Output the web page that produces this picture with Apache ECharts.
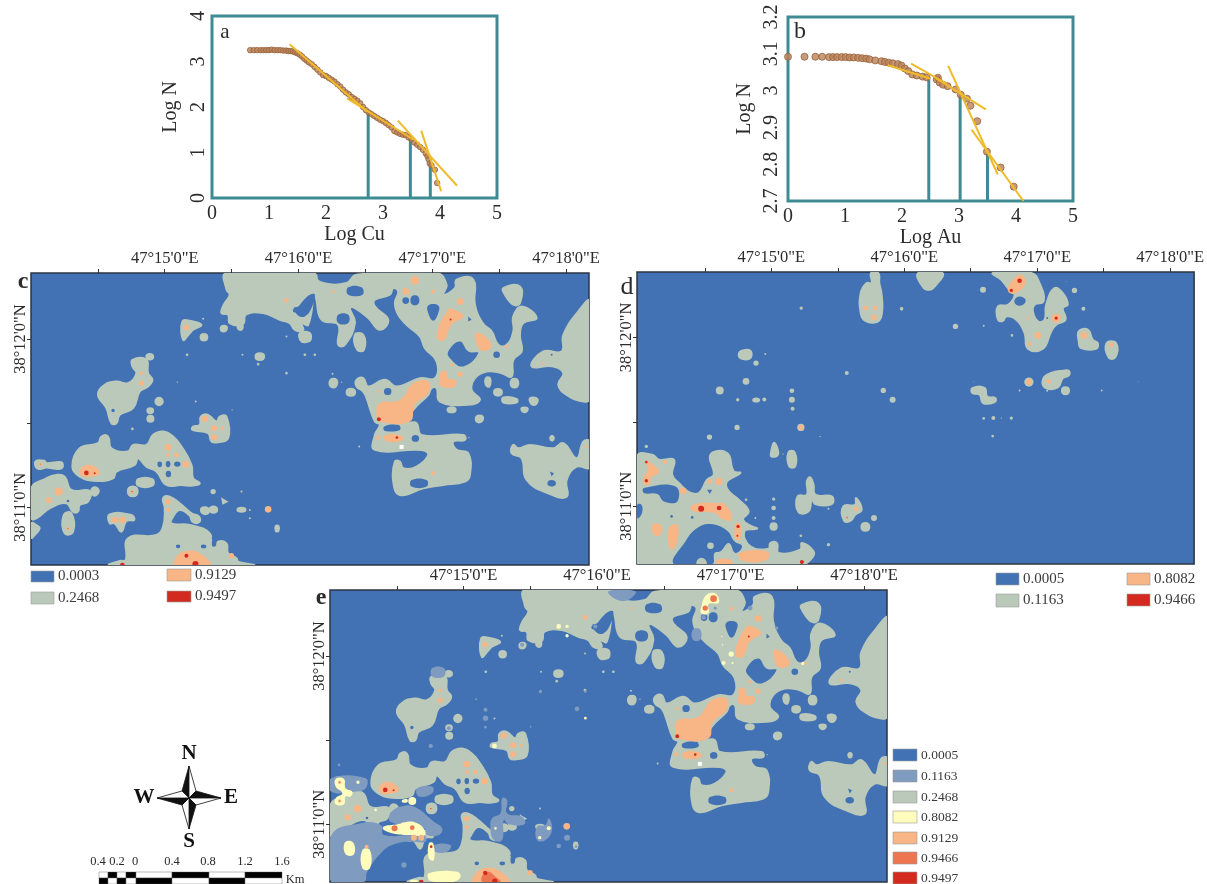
<!DOCTYPE html>
<html><head><meta charset="utf-8">
<style>html,body{margin:0;padding:0;background:#fff}#m{width:1207px;height:884px}</style>
<script src="https://cdn.jsdelivr.net/npm/echarts@6/dist/echarts.min.js"></script>
</head><body><div id="m"></div>
<script>
const SERIF='"Liberation Serif","Times New Roman",serif';
const TEAL='#3F8B93', YEL='#EFBB2B';
// Panel a
const cuPoints=[[.67,3.25],[.73,3.25],[.79,3.25],[.85,3.25],[.9,3.25],[.95,3.25],[1,3.25],[1.05,3.26],[1.1,3.25],[1.15,3.25],[1.2,3.25],[1.25,3.24],[1.3,3.24],[1.34,3.23],[1.38,3.23],[1.42,3.22],[1.46,3.2],[1.5,3.18],[1.54,3.15],[1.58,3.11],[1.62,3.06],[1.66,3.02],[1.7,2.98],[1.75,2.94],[1.8,2.88],[1.85,2.82],[1.9,2.76],[1.95,2.7],[2,2.68],[2.05,2.64],[2.1,2.6],[2.15,2.56],[2.2,2.5],[2.25,2.45],[2.3,2.38],[2.35,2.32],[2.4,2.28],[2.45,2.22],[2.5,2.18],[2.55,2.14],[2.6,2.08],[2.65,2],[2.7,1.93],[2.75,1.88],[2.8,1.84],[2.85,1.8],[2.9,1.76],[2.95,1.72],[3,1.69],[3.05,1.65],[3.1,1.6],[3.15,1.55],[3.2,1.47],[3.25,1.44],[3.3,1.41],[3.35,1.39],[3.4,1.38],[3.45,1.33],[3.5,1.29],[3.55,1.22],[3.6,1.17],[3.65,1.12],[3.7,1.06],[3.75,.98],[3.78,.92],[3.8,.85],[3.82,.76],[3.85,.72],[3.91,.62],[3.95,.33]];
const cuFits=[[[1.36,3.38],[2.72,1.9]],[[2.37,2.19],[3.54,1.28]],[[3.26,1.7],[4.3,.27]],[[3.67,1.48],[4.02,.15]]];
const cuBreaks=[[2.74,1.86],[3.48,1.28],[3.83,.84]];
// Panel b
const auPoints=[[0,3.092],[.29,3.092],[.48,3.092],[.6,3.092],[.72,3.091],[.79,3.091],[.86,3.091],[.94,3.091],[1.01,3.091],[1.08,3.09],[1.15,3.09],[1.23,3.089],[1.3,3.088],[1.37,3.087],[1.43,3.085],[1.53,3.082],[1.64,3.08],[1.7,3.078],[1.77,3.076],[1.84,3.074],[1.93,3.072],[1.99,3.068],[2.05,3.06],[2.11,3.053],[2.18,3.044],[2.26,3.041],[2.36,3.038],[2.43,3.036],[2.63,3.035],[2.61,3.03],[2.66,3.022],[2.72,3.016],[2.8,3.012],[2.94,3.003],[3.03,2.989],[3.14,2.978],[3.2,2.959],[3.32,2.917],[3.49,2.834],[3.73,2.791],[3.96,2.739]];
const auFits=[[[1.75,3.069],[2.49,3.033]],[[2.16,3.073],[2.78,3.019]],[[2.6,3.033],[3.47,2.949]],[[2.81,3.067],[3.68,2.772]],[[3.22,2.894],[4.13,2.7]]];
const auBreaks=[[2.47,3.037],[3.02,2.988],[3.5,2.829]];
// Class palette
const B=0,S=1,G=2,Y=3,O=4,C=5,R=6,W=7;
const classColors=['#4272B4','#7F9BBF','#BBC9BB','#FFFDBD','#F8B585','#ED7650','#D32A20','#FFFFFF'];
// Raster patches: [class,[col,row,...]] polygon or [class,col,row,radius] blob
const cuWest=[
[G,[680,85,940,85,940,150,925,240,905,235,910,255,885,255,870,235,840,225,790,205,738,210,730,238,690,235,685,210,665,205,672,180,690,150,680,135]],
[O,860,167,7],[G,[548,230,570,228,605,240,580,255,568,268,550,285]],[O,560,248,8],
[G,[605,270,620,270,620,285,605,285]],[G,[665,245,680,245,678,258,665,258]],[G,[715,242,728,242,725,255,715,252]],[G,[770,328,790,328,790,343,770,343]],[G,610,222,3],
[G,[905,265,930,265,930,288,910,285]],[G,860,275,3],[G,562,330,4],[G,728,330,3],[G,775,358,4],[G,860,385,4],[G,915,330,3],
[G,[398,345,440,345,445,385,458,405,445,425,420,440,400,490,360,510,350,535,335,535,320,490,295,450,315,420,350,410,385,415,410,385,398,365]],
[O,425,385,5],[O,425,415,8],[B,340,497,5],[G,[442,330,458,330,458,342,442,342]],[G,478,470,14],[G,[445,492,458,492,458,503,445,503]],[G,452,522,12],[G,398,552,4],[G,533,412,2],[G,588,470,3],[G,697,495,2],
[G,[603,515,625,510,650,530,660,515,680,515,685,580,655,592,635,590,625,565,578,555,580,545,600,540]],
[O,615,522,9],[O,643,550,9],[O,643,577,9],[O,668,550,5],
[G,[110,648,135,648,140,655,185,652,188,668,175,672,140,668,120,672,108,665]],[O,122,658,5],[C,122,658,2],
[G,[218,665,240,610,295,595,305,575,325,575,335,610,385,620,400,600,440,600,460,570,490,560,520,575,545,605,575,660,580,700,600,715,580,722,545,720,500,720,470,680,440,665,415,640,405,660,350,680,340,700,290,708,240,695]],
[O,505,607,10],[O,505,630,6],[O,530,630,7],[O,558,658,10],[O,[240,680,255,662,285,665,300,685,280,695,250,695]],[R,260,684,7],[R,285,685,3],
[B,[475,652,485,652,485,665,475,665]],[B,[500,650,510,650,510,665,500,665]],[B,[525,652,540,652,540,663,525,663]],[B,[500,680,512,680,512,695,500,695]],
[G,[415,703,458,703,458,722,415,722]],[G,[388,728,410,728,410,750,388,750]],[O,397,740,5],[R,397,740,2],
[G,[95,730,140,700,170,690,195,695,215,735,270,738,265,770,240,780,235,800,220,800,200,775,150,790,110,820,95,820]],[O,177,740,12],[O,147,766,9],[B,205,768,4],
[G,[278,730,290,728,297,740,285,752,275,740]],[G,[95,835,110,840,120,850,105,870,95,878]],[G,[192,810,215,805,220,860,195,865]],[O,205,850,5],[R,205,850,1.5],
[G,[330,808,395,810,403,825,380,828,365,860,345,835,330,835]],[O,345,825,9],[O,368,825,10],
[G,640,740,8],[G,725,740,3],[G,[668,763,680,770,670,775]],[G,[605,790,625,790,625,805,608,805]],[G,[632,788,650,788,650,800,632,800]],[G,[715,790,735,790,735,798,715,798]],[G,750,795,3],[G,750,820,3],[O,805,793,10],[G,[828,843,836,843,836,858,828,858]],
[G,[330,960,360,948,378,945,385,880,470,870,490,845,495,790,490,760,510,755,540,775,575,805,598,815,598,832,578,830,570,812,540,795,520,815,515,835,570,840,630,865,635,905,650,905,655,890,680,895,685,925,710,940,715,950,760,960]],
[O,505,770,8],[O,505,795,6],[O,[525,962,530,935,560,918,600,925,632,962]],[R,560,932,6],[R,587,957,9],[R,368,960,7],[O,695,932,8],
[B,640,880,4],[B,670,878,3],[B,[530,900,540,900,540,908,530,908]],[B,[605,900,618,900,618,908,605,908]]
];
const cuEast=[
[G,[0,85,30,90,70,115,140,115,170,90,410,85,440,120,430,150,465,130,470,105,520,105,525,180,548,235,575,260,595,300,620,300,640,260,640,215,665,185,710,220,670,235,660,270,665,320,640,345,635,395,605,385,560,380,525,400,515,435,540,465,505,480,420,470,410,430,395,430,385,450,340,495,325,530,350,535,365,570,490,570,495,585,460,590,470,615,505,625,510,690,495,710,430,720,370,730,300,750,280,710,285,650,300,650,310,670,350,665,385,630,365,615,225,615,225,570,240,540,225,530,200,460,190,440,170,425,170,405,190,400,205,425,255,405,290,425,360,400,405,400,410,350,375,310,360,275,320,240,295,210,285,175,295,140,280,130,270,150,225,165,225,185,265,225,240,255,205,220,165,190,150,190,165,235,135,300,115,300,115,240,65,225,45,150,30,150,20,200,0,240]],
[B,[-18,190,-5,185,8,170,30,150,45,150,35,190,15,215,-5,212]],[B,-15,197,6],
[B,[145,128,185,128,188,150,145,150]],[B,[115,210,145,210,145,235,115,235]],[B,[385,182,415,182,415,205,400,228,385,205]],[B,[310,160,325,160,325,175,310,175]],[B,[335,155,355,155,355,178,335,178]],
[B,[445,320,480,290,505,320,535,325,490,365,450,340]],[B,590,330,10],[B,[505,215,515,225,505,230]],[B,[255,432,272,432,272,448,255,448]],[B,[253,545,295,540,300,555,255,558]],[B,[338,573,355,573,355,588,338,588]],[B,[335,705,380,705,380,725,335,725]],
[G,[610,130,660,125,660,175,640,180,615,150]],[G,[0,265,25,265,30,285,5,290]],[G,[165,270,190,270,192,315,172,315]],[G,15,330,4],[G,45,330,4],[G,98,387,3],[G,[92,405,110,405,108,425,92,425]],[G,125,412,2],[G,[143,435,163,435,163,450,143,450]],[G,[558,400,570,400,568,425,558,420]],[G,[635,405,652,405,652,425,635,425]],[G,[585,435,603,435,603,450,585,450]],[G,[610,458,650,462,650,473,610,473]],[G,[690,460,712,462,708,478,695,478]],[G,[445,490,465,490,465,500,445,500]],[G,[665,490,682,490,680,500,668,500]],[G,[530,515,548,515,545,530,530,530]],[G,[752,575,760,575,760,585,752,585]],[G,507,578,2],[G,178,605,3],
[G,[870,170,870,460,850,470,800,450,775,420,790,385,760,365,695,365,730,320,785,320,790,270,835,200]],[B,755,330,3],[B,[695,385,705,382,705,392]],
[G,[640,600,655,610,690,600,760,610,790,595,830,640,850,590,870,590,870,668,830,665,800,705,800,755,745,745,680,705,665,640,635,625]],[B,[750,680,762,685,755,695]],[B,[745,708,765,708,765,722,745,722]],
[O,345,107,13],[O,318,140,10],[O,400,140,6],[O,480,170,10],[O,[445,195,465,195,490,215,455,240,435,285,415,285,412,260]],[R,452,224,3],
[O,[528,265,550,270,575,305,545,318,528,290]],[O,[425,380,440,380,445,400,468,405,465,425,425,425,420,400]],[O,480,388,8],
[O,[240,475,300,465,340,415,385,410,385,445,345,480,330,530,240,530,230,505]],[R,237,523,6],[O,235,578,6],[O,[255,572,300,570,310,585,260,590]],[R,291,578,4],[W,[299,600,311,600,311,612,299,612]],[O,400,685,6],[O,100,140,4],[O,730,355,4],[O,455,360,5],[O,620,305,5],[O,860,605,4],[O,238,440,4]
];
const extraWest=[
[S,[92,812,180,775,240,780,250,810,370,810,375,830,340,830,290,835,245,860,200,920,190,950,92,950]],
[S,[270,745,300,725,340,725,400,770,425,790,415,810,380,810,370,790,270,770]],
[S,[92,640,195,640,195,670,165,680,92,680]],[S,[350,670,395,665,395,685,355,695]],
[S,[575,760,600,745,605,700,620,705,620,745,665,755,672,778,625,778,610,765,605,825,580,825,570,790]],
[S,[710,785,735,780,745,760,755,795,735,825,710,825]],[S,[395,310,430,310,430,335,395,335]],
[S,555,435,6],[S,555,460,8],[S,555,487,4],[S,830,432,7],[S,800,818,9],[S,775,843,7],[S,827,845,4],[S,720,380,5],[S,855,380,4],[S,885,185,6],[S,445,490,6],[S,390,543,6],[S,115,600,4],[S,310,900,8],[S,[400,840,450,840,440,860,405,860]],[S,665,240,6],
[Y,[105,642,130,642,135,670,155,680,150,695,135,695,130,718,105,718,105,700,125,685,105,665]],[O,117,652,5],[C,117,652,2],[O,117,708,5],[C,117,708,2],
[Y,[305,705,320,703,320,712,305,712]],[Y,335,708,12],[Y,172,652,5],[Y,225,735,4],
[Y,[248,785,290,778,320,770,350,775,372,795,370,812,330,810,290,808,250,795]],[C,282,790,9],[C,335,788,7],[O,340,818,9],[O,362,818,9],
[Y,[133,832,157,832,160,868,135,868]],[Y,[185,855,208,855,208,910,185,910]],[O,198,845,6],[Y,[385,835,398,835,400,885,385,880]],[R,392,845,4],
[Y,[385,925,470,920,480,935,460,950,400,950,385,945]],[Y,[330,945,350,945,350,952,330,952]],
[Y,582,543,7],[Y,775,185,7],[Y,800,185,5],[Y,800,213,5],[Y,745,790,6],[Y,718,818,5],[Y,585,790,4],[Y,855,460,4],
[C,[545,950,550,925,565,920,585,935,600,950]],[R,555,925,6],[R,583,948,8]
];
const extraEast=[
[S,[25,80,105,80,85,105,50,105]],[S,[278,195,300,195,300,225,278,225]],[S,310,158,7],[S,450,130,7],[S,530,190,5],[S,345,130,5],
[Y,[315,95,330,85,350,90,355,115,325,118,325,145,303,145,305,120]],[C,340,102,10],[C,315,130,8],
[Y,393,268,8],[Y,370,295,6],[Y,397,295,3],[Y,365,215,2],[Y,367,240,2],[Y,608,296,5]
];
const auWest=[
[G,[783,85,805,85,808,115,815,150,815,210,800,232,765,228,752,205,752,145,770,115,785,115]],[O,766,190,7],[O,795,190,7],[O,793,218,8],
[G,573,190,5],[G,875,192,5],[G,[385,330,395,318,420,318,420,340,395,342]],[G,465,328,3],[G,437,355,8],[G,710,385,6],[G,407,410,10],[G,328,437,12],[G,820,437,8],[G,848,465,9],[G,545,438,7],[G,545,465,9],[G,547,492,6],[G,382,465,5],[G,[430,463,445,463,445,469,430,469]],[G,462,464,6],[G,380,548,8],[G,572,548,11],[O,572,548,8],[G,297,577,8],[G,107,605,5],[G,630,575,2],
[G,[490,595,497,600,503,630,483,635,483,620]],[G,518,628,2],[G,[535,622,553,622,555,665,537,665]],
[G,[590,750,590,710,600,698,610,720,615,750,665,755,665,778,615,778,605,760,595,800,565,802,562,755]],
[G,[700,785,735,780,738,760,755,795,735,810,722,828,702,828]],[O,738,792,7],[C,711,818,3],
[G,792,820,9],[G,[757,838,775,838,775,855,757,855]],[G,490,763,5],[G,490,790,7],[G,490,820,6],[G,[483,838,497,838,497,853,483,853]],[G,655,792,3],[G,572,873,4],[G,655,900,5],[G,407,765,4],[G,435,820,3],
[G,[80,635,125,630,145,645,190,645,185,690,210,720,235,742,265,745,290,705,310,690,300,630,350,625,370,680,390,685,350,710,352,735,385,765,415,800,398,825,425,845,440,852,402,860,420,905,475,912,480,895,500,895,505,925,570,915,575,895,610,920,605,940,575,958,80,958]],
[B,[100,730,195,725,200,770,160,770,140,748,100,745]],[B,[80,780,92,780,95,800,85,820,80,820]],[B,[290,735,305,735,298,748]],[B,183,815,4],[B,245,818,4],
[B,[190,958,225,890,260,850,300,838,350,858,372,890,395,905,375,925,355,895,330,920,312,925,305,958]],[G,300,903,10],[G,[262,958,285,958,280,945,265,945]],
[O,[107,650,115,650,145,680,120,700,118,718,100,718,100,695,110,680]],[R,107,652,4],[R,107,708,5],
[O,[240,785,270,775,310,775,345,780,365,825,340,825,310,805,250,800]],[R,272,792,9],[R,326,790,7],
[O,[125,840,150,840,150,870,130,870]],[O,[175,850,200,840,200,890,185,915,175,905]],[O,325,710,11],[O,298,710,7],[O,218,738,10],[O,163,652,6],
[O,[375,838,390,838,390,882,375,882]],[R,383,845,5],[R,381,873,3],
[O,[385,925,470,920,470,945,400,950]],[O,[320,945,360,945,365,958,320,958]],[R,575,952,6]
];
const auEast=[
[G,[55,85,128,85,105,125,90,135,70,128]],
[G,[280,85,395,85,420,115,432,170,405,180,400,200,415,230,435,225,440,180,465,130,490,145,505,180,490,190,498,225,470,240,455,260,430,312,385,312,375,265,350,225,320,215,310,228,295,225,295,185,325,180,345,150,325,130,305,105]],
[B,[345,165,360,155,378,165,370,180,350,180]],
[O,[345,100,365,90,378,115,350,145,330,145,325,130]],[R,360,108,7],[R,335,137,5],[O,415,272,10],[O,390,298,6],[O,470,220,14],[R,470,220,5],[O,385,220,4],[B,443,220,3],
[G,250,135,9],[G,525,137,8],[G,552,192,6],[G,167,245,8],[G,252,243,3],[G,337,272,4],[G,5,192,5],
[G,[538,260,565,255,580,285,595,295,590,312,545,310,538,290]],[O,553,272,10],
[G,[622,295,650,295,648,338,628,338]],[O,635,300,7],
[G,388,412,14],[O,388,412,9],[G,[432,400,455,385,490,378,508,378,508,392,490,400,475,428,435,428]],[O,447,410,7],
[G,[490,430,506,430,506,446,490,446]],[G,360,437,3],[G,443,438,3],[G,607,437,3],[G,717,410,1],
[G,[218,430,255,430,262,455,287,460,285,472,250,475,240,450,218,445]],
[G,252,521,4],[G,281,520,6],[G,305,520,2],[G,335,520,5],[G,279,574,4],[G,222,410,1],[G,500,110,1]
];
// Axis ticks (minutes)
const lonTicks=[14.5,15,15.5,16,16.5,17,17.5,18], lonLabels=[15,16,17,18];
const latTicks=[11,11.5,12], latLabels=[11,12];
const cuLegend=['0.0003','0.2468','0.9129','0.9497'];
const auLegend=['0.0005','0.1163','0.8082','0.9466'];
const jointLegend=['0.0005','0.1163','0.2468','0.8082','0.9129','0.9466','0.9497'];
const scaleLabels=['0.4','0.2','0','0.4','0.8','1.2','1.6'];

const shift=(list,dx,dy)=>list.map(p=>Array.isArray(p[1])
  ?[p[0],p[1].map((v,i)=>i%2?v+dy:v+dx)]
  :[p[0],p[1]+dx,p[2]+dy,p[3]]);
const cuGeo={lon:c=>15+(c-495)/401,lat:r=>12-(r-283)/504,x:[14,18.172],y:[10.657,12.393]};
const auGeo={lon:c=>15+(c-483)/400,lat:r=>12-(r-278)/507,x:[13.99,18.18],y:[10.659,12.387]};
const cuAll=[...cuWest,...shift(cuEast,900,0)];
const auAll=[...auWest,...shift(auEast,870,0)];
const jointAll=[...cuAll,...shift(extraWest,6,9),...shift(extraEast,906,9)];

const font=(s,extra)=>Object.assign({fontFamily:SERIF,fontSize:s,color:'#2b2b2b'},extra||{});
const grid=[],xAxis=[],yAxis=[],series=[];
function logPanel(box,xName,gap,lblMargin,yMin,yMax,yInt,pts,fits,breaks,size){
  const i=grid.length;
  grid.push(Object.assign({show:true,borderColor:TEAL,borderWidth:3,backgroundColor:'#fff'},box));
  xAxis.push({gridIndex:i,type:'value',min:0,max:5,interval:1,splitLine:{show:false},axisLine:{show:false},axisTick:{show:false},
    axisLabel:font(20,{margin:6}),name:xName,nameLocation:'middle',nameGap:gap,nameTextStyle:font(20)});
  yAxis.push({gridIndex:i,type:'value',min:yMin,max:yMax,interval:yInt,splitLine:{show:false},axisLine:{show:false},axisTick:{show:false},
    axisLabel:font(20,{rotate:90,margin:lblMargin,formatter:v=>String(+v.toFixed(1))}),name:'Log N',nameLocation:'middle',nameGap:yInt<1?33:31,nameTextStyle:font(20)});
  breaks.forEach(b=>series.push({type:'line',xAxisIndex:i,yAxisIndex:i,data:[[b[0],yMin],b],symbol:'none',silent:true,lineStyle:{color:TEAL,width:3},z:2}));
  series.push({type:'scatter',xAxisIndex:i,yAxisIndex:i,data:pts,symbolSize:size,silent:true,z:3,
    itemStyle:{color:'#BC8258',borderColor:'#96603A',borderWidth:1}});
  fits.forEach(f=>series.push({type:'line',xAxisIndex:i,yAxisIndex:i,data:f,symbol:'none',silent:true,lineStyle:{color:YEL,width:2},z:4}));
}
function mapPanel(box,geo,patches){
  const i=grid.length;
  grid.push(Object.assign({show:true,borderColor:'#2c3442',borderWidth:1.5,backgroundColor:classColors[B]},box));
  xAxis.push({gridIndex:i,type:'value',position:'top',min:geo.x[0],max:geo.x[1],splitLine:{show:false},axisLine:{show:false},
    axisTick:{show:true,length:4,customValues:lonTicks,lineStyle:{color:'#333'}},
    axisLabel:font(16.5,{margin:6,customValues:lonLabels,formatter:v=>`47°${v}'0"E`})});
  yAxis.push({gridIndex:i,type:'value',min:geo.y[0],max:geo.y[1],splitLine:{show:false},axisLine:{show:false},
    axisTick:{show:true,length:4,customValues:latTicks,lineStyle:{color:'#333'}},
    axisLabel:font(16.5,{margin:2,rotate:90,customValues:latLabels,formatter:v=>`38°${v}'0"N`})});
  series.push({type:'custom',xAxisIndex:i,yAxisIndex:i,silent:true,clip:true,z:2,
    encode:{x:0,y:1},
    data:patches.map((p,k)=>Array.isArray(p[1])?[geo.lon(p[1][0]),geo.lat(p[1][1]),k]:[geo.lon(p[1]),geo.lat(p[2]),k]),
    renderItem:(params,api)=>{
      const p=patches[api.value(2)], col=classColors[p[0]];
      if(Array.isArray(p[1])){
        const pts=[];
        for(let j=0;j<p[1].length;j+=2) pts.push(api.coord([geo.lon(p[1][j]),geo.lat(p[1][j+1])]));
        return {type:'polygon',shape:{points:pts,smooth:(p[0]!==W&&pts.length>=4)?0.45:0},
          style:{fill:col,stroke:p[0]===G?col:null,lineWidth:p[0]===G?2:0}};
      }
      const c=api.coord([geo.lon(p[1]),geo.lat(p[2])]);
      return {type:'circle',shape:{cx:c[0],cy:c[1],r:api.size([geo.lon(p[1]+p[3])-geo.lon(p[1]),0])[0]},style:{fill:col}};
    }});
}
logPanel({left:212,top:16,width:285,height:182},'Log Cu',25,3,0,4,1,cuPoints,cuFits,cuBreaks,5.5);
logPanel({left:788,top:17,width:285,height:184},'Log Au',22,6,2.7,3.2,.1,auPoints,auFits,auBreaks,7);
mapPanel({left:31,top:273,width:558,height:292},cuGeo,cuAll);
mapPanel({left:637,top:272,width:558,height:292},auGeo,auAll);
mapPanel({left:330,top:590,width:557,height:292},cuGeo,jointAll);

const graphic=[];
const txt=(x,y,t,s,extra)=>graphic.push({type:'text',x,y,silent:true,style:Object.assign({text:t,fontFamily:SERIF,fontSize:s,fill:'#2b2b2b',verticalAlign:'middle',align:'center'},extra||{})});
const swatch=(x,y,w,h,c,label,fs)=>{
  graphic.push({type:'rect',shape:{x,y,width:w,height:h},silent:true,style:{fill:c,stroke:'#9a9a9a',lineWidth:.6}});
  txt(x+w+4,y+h/2,label,fs,{align:'left',fill:'#3a3a3a'});
};
txt(225,32,'a',21);txt(800,32,'b',24);
txt(23,282,'c',24,{fontWeight:'bold'});txt(627,287,'d',26);txt(321,598,'e',24,{fontWeight:'bold'});
const cl=classColors;
swatch(31,571,23,11,cl[B],cuLegend[0],15);swatch(31,592,23,12,cl[G],cuLegend[1],15);
swatch(167,569,24,12,cl[O],cuLegend[2],15);swatch(167,591,24,11,cl[R],cuLegend[3],15);
swatch(996,573,23,12,cl[B],auLegend[0],15);swatch(996,594,23,13,cl[G],auLegend[1],15);
swatch(1127,573,23,12,cl[O],auLegend[2],15);swatch(1127,594,23,12,cl[R],auLegend[3],15);
[[749,B],[770,S],[791,G],[811,Y],[832,O],[852,C],[872,R]].forEach((r,i)=>swatch(893,r[0],24,12,cl[r[1]],jointLegend[i],13.5));
// compass
const cx=189,cy=798,tri=(a,b,f)=>graphic.push({type:'polygon',silent:true,shape:{points:[[cx,cy],[cx+a[0],cy+a[1]],[cx+b[0],cy+b[1]]]},style:{fill:f,stroke:'#111',lineWidth:.8}});
tri([0,-32],[-7,-7],'#111');tri([0,-32],[7,-7],'#fff');
tri([32,0],[7,-7],'#111');tri([32,0],[7,7],'#fff');
tri([0,31],[7,7],'#111');tri([0,31],[-7,7],'#fff');
tri([-32,0],[-7,7],'#111');tri([-32,0],[-7,-7],'#fff');
const bold={fontWeight:'bold',fill:'#111'};
txt(189,754,'N',21,bold);txt(189,842,'S',21,bold);txt(144,798,'W',21,bold);txt(231,798,'E',21,bold);
// scale bar
const edges=[99,108,117,126,136,172,209,245,282];
for(let i=0;i<edges.length-1;i++){
  graphic.push({type:'rect',silent:true,shape:{x:edges[i],y:872,width:edges[i+1]-edges[i],height:6},style:{fill:i%2?'#000':'#fff',stroke:'#555',lineWidth:.4}});
  graphic.push({type:'rect',silent:true,shape:{x:edges[i],y:878,width:edges[i+1]-edges[i],height:6},style:{fill:i%2?'#fff':'#000',stroke:'#555',lineWidth:.4}});
}
[98,117,135,172,208,245,282].forEach((x,i)=>txt(x,862,scaleLabels[i],12.5));
txt(295,880,'Km',12.5);

const chart=echarts.init(document.getElementById('m'),null,{renderer:'canvas'});
chart.setOption({animation:false,backgroundColor:'#fff',grid,xAxis,yAxis,series,graphic:{elements:graphic},tooltip:{show:false}});
</script></body></html>
